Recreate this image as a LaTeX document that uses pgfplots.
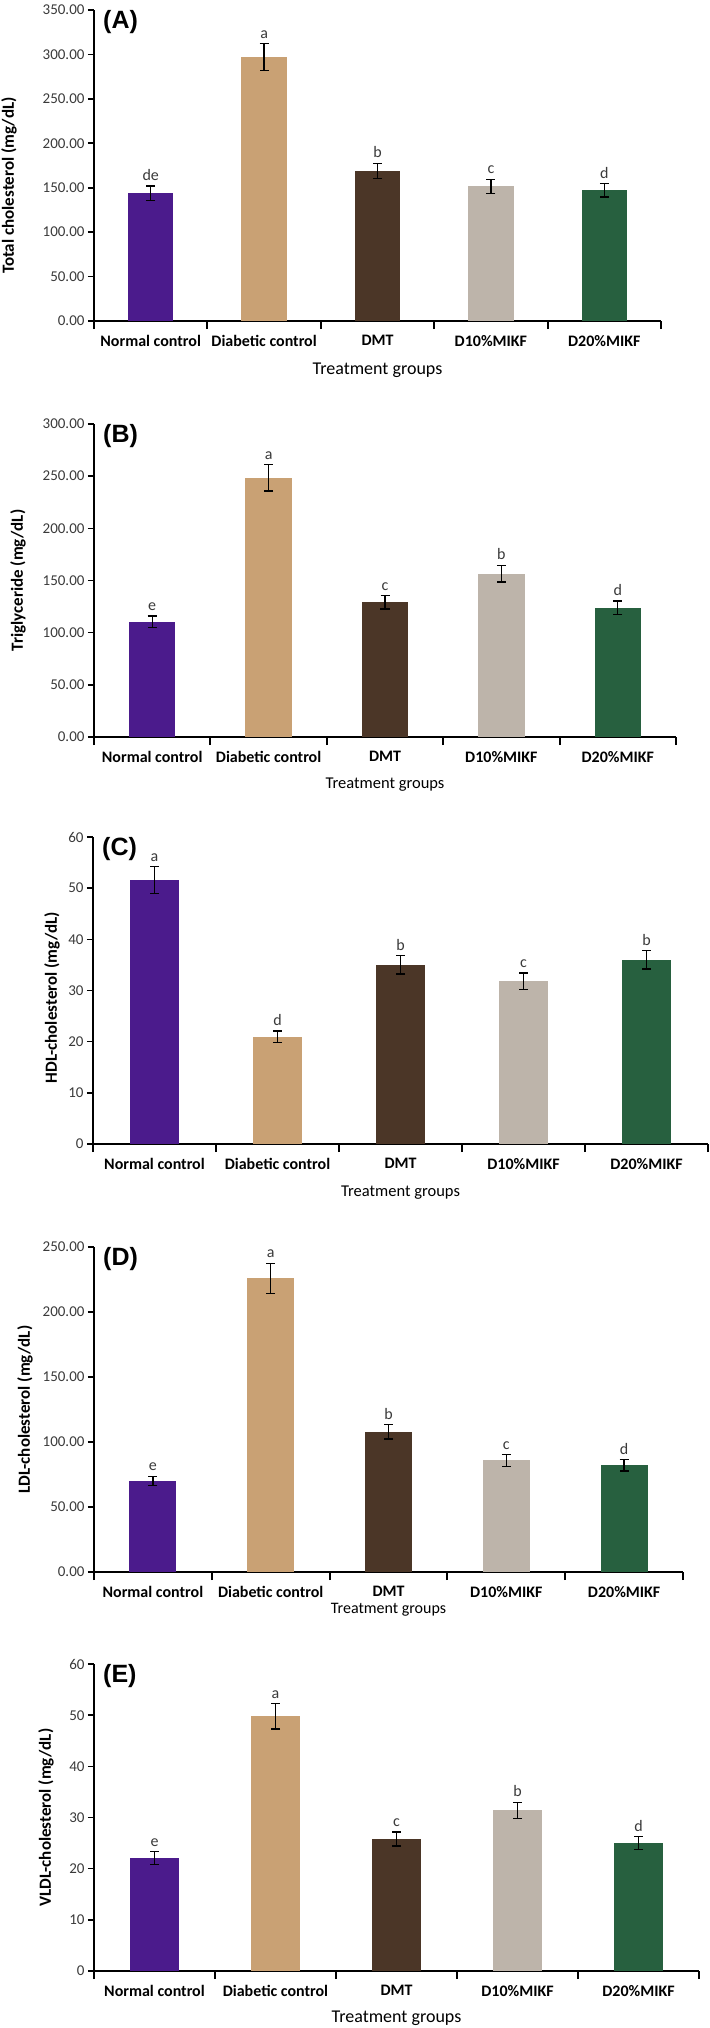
\documentclass[border=0pt]{standalone}
\usepackage{fontspec}
\setmainfont{Carlito}
\newfontfamily\arialb{Liberation Sans}
\usepackage{pgfplots}
\pgfplotsset{compat=1.18}

\definecolor{cNC}{HTML}{4B1B8C}
\definecolor{cDC}{HTML}{C9A174}
\definecolor{cDMT}{HTML}{4B3627}
\definecolor{cDT}{HTML}{BDB4AA}
\definecolor{cDW}{HTML}{27603F}
\definecolor{tickc}{HTML}{3A3A3A}

\pgfplotsset{
  panel/.style={
    scale only axis,
    axis x line=bottom, axis y line=left,
    axis line style={-, line width=2.4pt, black},
    xmin=-0.5, xmax=4.5, ymin=0,
    xtick={0,1,2,3,4},
    xticklabels={Normal control, Diabetic control, DMT, D10\%MIKF, D20\%MIKF},
    x tick style={draw=none},
    extra x ticks={-0.5,0.5,1.5,2.5,3.5,4.5},
    extra x tick labels={},
    extra x tick style={x tick style={draw=black, line width=2pt}, major tick length=8pt},
    tick align=outside,
    y tick style={black, line width=1.6pt}, major tick length=6pt,
    yticklabel style={font=\fontsize{15}{15}\selectfont, color=tickc, /pgf/number format/assume math mode=true},
    xticklabel style={font=\bfseries\fontsize{16}{16}\selectfont, yshift=-5pt},
    ylabel style={font=\bfseries\fontsize{17}{17}\selectfont, anchor=center, rotate=0},
    xlabel style={at={(axis description cs:0.5,0)}, anchor=center},
    clip=false,
  },
  dec2/.style={yticklabel style={/pgf/number format/.cd, fixed, fixed zerofill, precision=2}},
  barp/.style={ybar, bar width=0.4, bar shift=0pt, draw=none, fill=#1,
    error bars/.cd, y dir=both, y explicit,
    error bar style={line width=1.3pt, black},
    error mark options={rotate=90, mark size=4.5pt, line width=1.3pt, black}},
  letters/.style={draw=none, mark=none, nodes near coords, point meta=explicit symbolic,
    nodes near coords style={anchor=south, inner sep=1pt, yshift=4pt, color=tickc, font=\fontsize{16}{16}\selectfont}},
}

\newcommand{\panellabel}[1]{\node[anchor=north west, inner sep=0pt, font=\arialb\bfseries\fontsize{25}{25}\selectfont] at (rel axis cs:0,1) [xshift=9pt] {#1};}

\begin{document}
\begin{tikzpicture}
\path[use as bounding box] (0,0) rectangle (709pt,-2028pt);

% ---------------- (A) ----------------
\begin{axis}[panel, dec2, at={(94pt,-321pt)}, anchor=south west,
  width=567pt, height=311pt, ymax=350, ytick={0,50,...,350},
  ylabel={Total cholesterol (mg/dL)},
  ylabel style={at={([xshift=-85pt,yshift=-20pt]axis description cs:0,0.5)}},
  xlabel={Treatment groups}, xlabel style={yshift=-49pt, font=\fontsize{18}{18}\selectfont}]
\addplot[barp=cNC] coordinates {(0,144) +- (0,8)};
\addplot[barp=cDC] coordinates {(1,297) +- (0,15)};
\addplot[barp=cDMT] coordinates {(2,169) +- (0,8.5)};
\addplot[barp=cDT] coordinates {(3,151.5) +- (0,8)};
\addplot[barp=cDW] coordinates {(4,147) +- (0,7.5)};
\addplot[letters] coordinates {(0,152)[de] (1,312)[a] (2,177.5)[b] (3,159.5)[c] (4,154.5)[d]};
\panellabel{(A)}
\end{axis}

% ---------------- (B) ----------------
\begin{axis}[panel, dec2, at={(94pt,-737pt)}, anchor=south west,
  width=582pt, height=313pt, ymax=300, ytick={0,50,...,300},
  ylabel={Triglyceride (mg/dL)},
  ylabel style={at={([xshift=-76pt]axis description cs:0,0.5)}},
  xlabel={Treatment groups}, xlabel style={yshift=-48pt, font=\fontsize{16.5}{16.5}\selectfont}]
\addplot[barp=cNC] coordinates {(0,110.5) +- (0,5.6)};
\addplot[barp=cDC] coordinates {(1,248.5) +- (0,12.6)};
\addplot[barp=cDMT] coordinates {(2,129.3) +- (0,6.5)};
\addplot[barp=cDT] coordinates {(3,156.7) +- (0,8)};
\addplot[barp=cDW] coordinates {(4,124) +- (0,6.4)};
\addplot[letters] coordinates {(0,116.1)[e] (1,261.1)[a] (2,135.8)[c] (3,164.7)[b] (4,130.4)[d]};
\panellabel{(B)}
\end{axis}

% ---------------- (C) ----------------
\begin{axis}[panel, at={(93pt,-1144pt)}, anchor=south west,
  width=615pt, height=307pt, ymax=60, ytick={0,10,...,60},
  ylabel={HDL-cholesterol (mg/dL)},
  ylabel style={at={([xshift=-41pt,yshift=-7pt]axis description cs:0,0.5)}},
  xlabel={Treatment groups}, xlabel style={yshift=-49pt, font=\fontsize{16.5}{16.5}\selectfont}]
\addplot[barp=cNC] coordinates {(0,51.6) +- (0,2.6)};
\addplot[barp=cDC] coordinates {(1,21.0) +- (0,1.1)};
\addplot[barp=cDMT] coordinates {(2,35.0) +- (0,1.8)};
\addplot[barp=cDT] coordinates {(3,31.8) +- (0,1.6)};
\addplot[barp=cDW] coordinates {(4,36.0) +- (0,1.8)};
\addplot[letters] coordinates {(0,54.2)[a] (1,22.1)[d] (2,36.8)[b] (3,33.4)[c] (4,37.8)[b]};
\panellabel{(C)}
\end{axis}

% ---------------- (D) ----------------
\begin{axis}[panel, dec2, at={(94pt,-1572pt)}, anchor=south west,
  width=589pt, height=325pt, ymax=250, ytick={0,50,...,250},
  ylabel={LDL-cholesterol (mg/dL)},
  ylabel style={at={([xshift=-69pt]axis description cs:0,0.5)}},
  xlabel={Treatment groups}, xlabel style={yshift=-38pt, font=\fontsize{16}{16}\selectfont}]
\addplot[barp=cNC] coordinates {(0,70.1) +- (0,3.6)};
\addplot[barp=cDC] coordinates {(1,226) +- (0,11.5)};
\addplot[barp=cDMT] coordinates {(2,108) +- (0,5.6)};
\addplot[barp=cDT] coordinates {(3,85.8) +- (0,4.6)};
\addplot[barp=cDW] coordinates {(4,82.2) +- (0,4.4)};
\addplot[letters] coordinates {(0,73.7)[e] (1,237.5)[a] (2,113.6)[b] (3,90.4)[c] (4,86.6)[d]};
\panellabel{(D)}
\end{axis}

% ---------------- (E) ----------------
\begin{axis}[panel, at={(94pt,-1971pt)}, anchor=south west,
  width=605pt, height=307pt, ymax=60, ytick={0,10,...,60},
  ylabel={VLDL-cholesterol (mg/dL)},
  ylabel style={at={([xshift=-48pt]axis description cs:0,0.5)}},
  xlabel={Treatment groups}, xlabel style={yshift=-47pt, font=\fontsize{18}{18}\selectfont}]
\addplot[barp=cNC] coordinates {(0,22.1) +- (0,1.25)};
\addplot[barp=cDC] coordinates {(1,49.8) +- (0,2.5)};
\addplot[barp=cDMT] coordinates {(2,25.8) +- (0,1.35)};
\addplot[barp=cDT] coordinates {(3,31.4) +- (0,1.6)};
\addplot[barp=cDW] coordinates {(4,25.0) +- (0,1.25)};
\addplot[letters] coordinates {(0,23.35)[e] (1,52.3)[a] (2,27.15)[c] (3,33.0)[b] (4,26.25)[d]};
\panellabel{(E)}
\end{axis}
\end{tikzpicture}
\end{document}
